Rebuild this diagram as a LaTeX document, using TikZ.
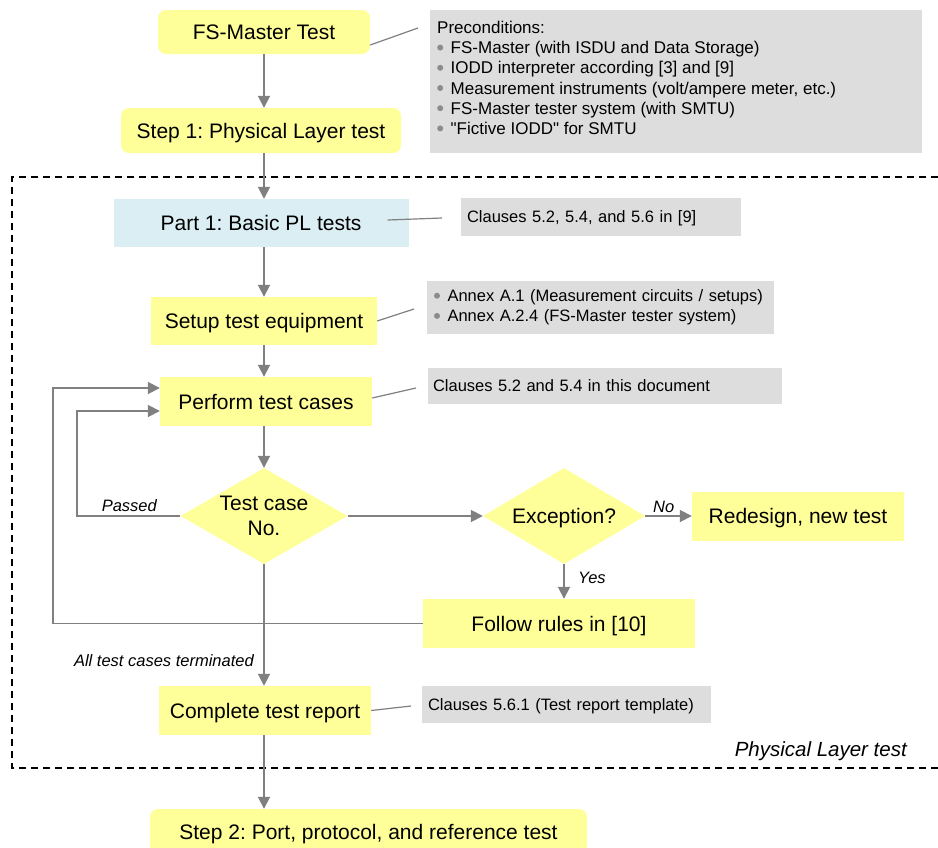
\documentclass[tikz,border=0pt]{standalone}
\usepackage{fontspec}
\setmainfont{Liberation Sans}
\usetikzlibrary{arrows.meta,shapes.geometric}
\definecolor{yfill}{HTML}{FFFF99}
\definecolor{bfill}{HTML}{DAEEF3}
\definecolor{nfill}{HTML}{DDDDDD}
\definecolor{lgray}{HTML}{808080}
\definecolor{bulgray}{HTML}{8C8C8C}
\newcommand\bul{\tikz[baseline=0pt]\fill[bulgray] (3pt,0.36em) circle (3pt);\hspace{7.5pt}}
\frenchspacing
\begin{document}
\begin{tikzpicture}[x=1pt,y=-1pt,
 big/.style={font=\fontsize{21}{25}\selectfont, inner sep=0pt, text height=15pt, text depth=0pt, align=center},
 ybox/.style={big, fill=yfill},
 rbox/.style={ybox, rounded corners=8pt},
 dia/.style={shape=diamond, fill=yfill, inner sep=0pt},
 note/.style={fill=nfill, inner ysep=0pt, inner xsep=6pt, font=\fontsize{16.5}{20.2}\selectfont, align=left},
 note1/.style={note, text height=11.8pt, text depth=0pt},
 flow/.style={draw=lgray, line width=1.8pt, -{Triangle[length=12pt,width=12pt]}},
 link/.style={draw=lgray, line width=1.2pt},
 lab/.style={font=\fontsize{16.5}{20}\selectfont\itshape, inner sep=0pt}]
\path[use as bounding box, clip] (0,0) rectangle (938,847);
\fill[white] (0,0) rectangle (938,847);
% dashed frame
\draw[black, line width=1.2pt, dash pattern=on 7pt off 5pt] (938,177) -- (12,177) -- (12,768) -- (938,768);
% main nodes
\node[rbox, minimum width=212pt, minimum height=44pt] (fs) at (264,32) {FS-Master Test};
\node[rbox, minimum width=280pt, minimum height=45pt] (s1) at (261,130.5) {Step 1: Physical Layer test};
\node[big, fill=bfill, minimum width=295pt, minimum height=48pt] (p1) at (261,223) {Part 1: Basic PL tests};
\node[ybox, minimum width=226pt, minimum height=48pt] (setup) at (264,321) {Setup test equipment};
\node[ybox, minimum width=212pt, minimum height=49pt] (perf) at (266,401.5) {Perform test cases};
\node[dia, minimum width=167pt, minimum height=96pt] (tc) at (264,516) {};
\node[font=\fontsize{21}{25}\selectfont, align=center, inner sep=0pt] (tct) at (tc) {Test case\\No.};
\node[dia, minimum width=162pt, minimum height=96pt] (exc) at (564,516) {};
\node[big] (exct) at (exc) {Exception?};
\node[ybox, minimum width=212pt, minimum height=49pt] (red) at (798,516) {Redesign, new test};
\node[ybox, minimum width=272pt, minimum height=49pt] (fol) at (559,623.5) {Follow rules in [10]};
\node[ybox, minimum width=212pt, minimum height=49pt] (rep) at (265,710.5) {Complete test report};
\node[rbox, minimum width=437pt, minimum height=45pt] (s2) at (368.5,831.5) {Step 2: Port, protocol, and reference test};
% notes
\node[fill=nfill, inner sep=0pt, minimum width=492pt, minimum height=143pt] (pre) at (676,81.5) {};
\node[font=\fontsize{17}{20.2}\selectfont, align=left, inner sep=0pt, anchor=north west] (pret) at (437,21) {Preconditions:\\\bul FS-Master (with ISDU and Data Storage)\\\bul IODD interpreter according [3] and [9]\\\bul Measurement instruments (volt/ampere meter, etc.)\\\bul FS-Master tester system (with SMTU)\\\bul \textquotedbl Fictive IODD\textquotedbl{} for SMTU};
\node[note1, text width=268pt, minimum height=38pt] (n1) at (601,217) {Clauses 5.2, 5.4, and 5.6 in [9]};
\node[note, text width=333pt, minimum height=53pt, inner xsep=7pt] (n2) at (600.5,307.5) {\bul Annex A.1 (Measurement circuits / setups)\\\bul Annex A.2.4 (FS-Master tester system)};
\node[note1, text width=344pt, minimum height=36pt, inner xsep=5pt] (n3) at (605,386) {Clauses 5.2 and 5.4 in this document};
\node[note1, text width=277pt, minimum height=37pt] (n4) at (566.5,704.5) {Clauses 5.6.1 (Test report template)};
% note links
\coordinate (preL) at (418,28);
\coordinate (n1L) at (442,218);
\coordinate (n2L) at (414,309);
\coordinate (n3L) at (416,388);
\coordinate (n4L) at (411,706);
\draw[link] ([yshift=-13pt]fs.east) -- (preL);
\draw[link] ([xshift=-21pt,yshift=3pt]p1.east) -- (n1L);
\draw[link] (setup.east) -- (n2L);
\draw[link] ([yshift=3.5pt]perf.east) -- (n3L);
\draw[link] (rep.east) -- (n4L);
% flow arrows
\draw[flow] (fs.south) -- (s1.north -| fs.south);
\draw[flow] (s1.south -| fs.south) -- (p1.north -| fs.south);
\draw[flow] (p1.south -| fs.south) -- (setup.north -| fs.south);
\draw[flow] (setup.south -| fs.south) -- (perf.north -| fs.south);
\draw[flow] (perf.south -| fs.south) -- (tc.north);
\draw[flow] (tc.south) -- (rep.north -| tc.south);
\draw[flow] (rep.south -| fs.south) -- (s2.north -| fs.south);
\draw[flow] (tc.east) -- (exc.west);
\draw[flow] (exc.east) -- (red.west);
\draw[flow] (exc.south) -- (fol.north -| exc.south);
\draw[flow] (tc.west) -- ++(-103.5,0) |- ([yshift=-9.5pt]perf.west);
\draw[flow] (fol.west) -- ++(-370,0) |- ([yshift=13.5pt]perf.west);
% labels
\node[lab, anchor=base east] (lpass) at (157,511) {Passed};
\node[lab, anchor=base west] (lno) at (653,512) {No};
\node[lab, anchor=base west] (lyes) at (578,583) {Yes};
\node[lab, anchor=base east] (lall) at (254,666) {All test cases terminated};
\node[lab, font=\fontsize{20.5}{24}\selectfont\itshape, anchor=base east] (lphy) at (907,756) {Physical Layer test};
\end{tikzpicture}
\end{document}
